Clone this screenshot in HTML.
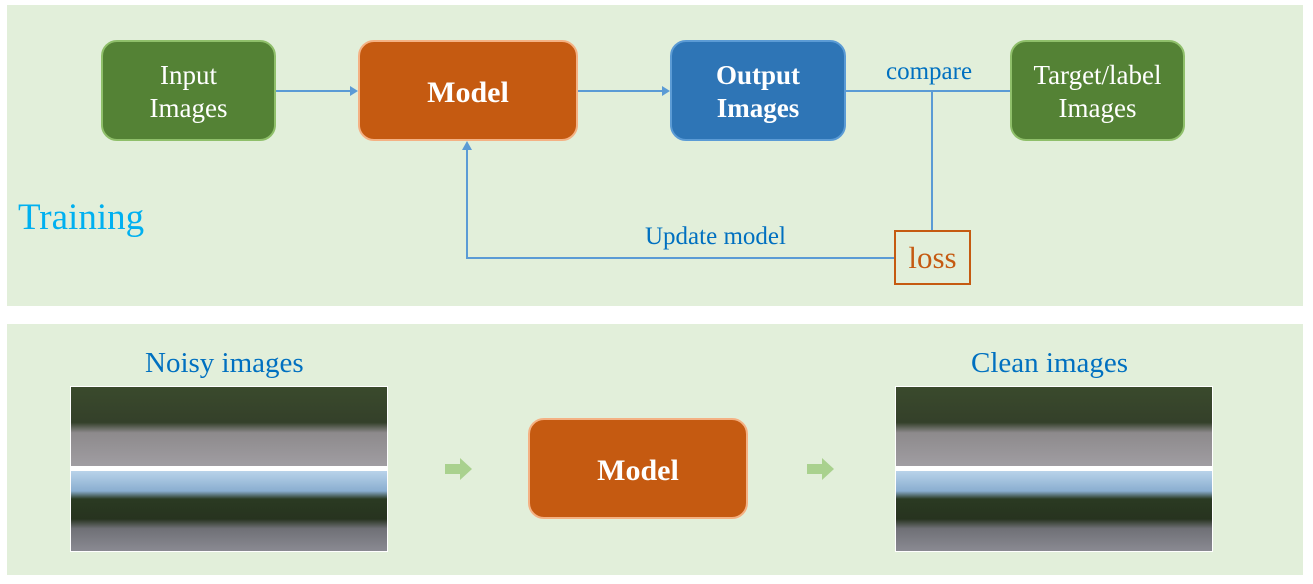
<!DOCTYPE html>
<html><head><style>
body{margin:0;width:1313px;height:584px;background:#fff;position:relative;overflow:hidden;font-family:"Liberation Serif",serif}
.a{position:absolute}
.panel{background:#e2efda}
.box{position:absolute;border-radius:16px;color:#fff;display:flex;align-items:center;justify-content:center;text-align:center;font-size:27px;line-height:33px;box-sizing:border-box;padding-top:3px}
.g{background:#548235;border:2px solid #8fbf6a}
.o{background:#c55a11;border:2px solid #f4b183}
.b{background:#2e75b6;border:2px solid #5b9bd5}
.lbl{position:absolute;color:#0070c0;font-size:25px;white-space:nowrap}
.img1{background:linear-gradient(to bottom,#3a4a2c 0%,#34402a 45%,#8d8a8c 58%,#a09da2 100%)}
.img2{background:linear-gradient(to bottom,#b9d3ea 0%,#8aaed0 25%,#2a3a22 35%,#27331f 60%,#6f7076 72%,#8a8a92 100%)}
</style></head><body>
<div class="a panel" style="left:7px;top:5px;width:1296px;height:301px"></div>
<div class="a panel" style="left:7px;top:324px;width:1296px;height:251px"></div>
<div class="box g" style="left:101px;top:40px;width:175px;height:101px">Input<br>Images</div>
<div class="box o" style="left:358px;top:40px;width:220px;height:101px;font-weight:bold;font-size:30px">Model</div>
<div class="box b" style="left:670px;top:40px;width:176px;height:101px;font-weight:bold">Output<br>Images</div>
<div class="box g" style="left:1010px;top:40px;width:175px;height:101px">Target/label<br>Images</div>
<svg class="a" style="left:0;top:0" width="1313" height="584">
<g stroke="#5b9bd5" stroke-width="2" fill="none">
<line x1="276" y1="91" x2="352" y2="91"/>
<line x1="578" y1="91" x2="664" y2="91"/>
<line x1="846" y1="91" x2="1010" y2="91"/>
<line x1="932" y1="91" x2="932" y2="231"/>
<polyline points="895,258 467,258 467,147"/>
</g>
<g fill="#5b9bd5">
<polygon points="358,91 350,86 350,96"/>
<polygon points="670,91 662,86 662,96"/>
<polygon points="467,141 462,150 472,150"/>
</g>
<rect x="895" y="231" width="75" height="53" fill="none" stroke="#c55a11" stroke-width="2"/>
<polygon points="445,464 460,464 460,458 472,469 460,480 460,474 445,474" fill="#a9d18e"/>
<polygon points="807,464 822,464 822,458 834,469 822,480 822,474 807,474" fill="#a9d18e"/>
</svg>
<div class="a" style="left:895px;top:240px;width:75px;text-align:center;color:#c55a11;font-size:31px">loss</div>
<div class="lbl" style="left:886px;top:58px">compare</div>
<div class="lbl" style="left:645px;top:223px">Update model</div>
<div class="lbl" style="left:18px;top:196px;font-size:37px;color:#00b0f0">Training</div>
<div class="lbl" style="left:145px;top:347px;font-size:29px">Noisy images</div>
<div class="lbl" style="left:971px;top:347px;font-size:29px">Clean images</div>
<div class="a" style="left:70px;top:386px;width:318px;height:166px;background:#fff"></div>
<div class="a img1" style="left:71px;top:387px;width:316px;height:79px"></div>
<div class="a img2" style="left:71px;top:471px;width:316px;height:80px"></div>
<div class="a" style="left:895px;top:386px;width:318px;height:166px;background:#fff"></div>
<div class="a img1" style="left:896px;top:387px;width:316px;height:79px"></div>
<div class="a img2" style="left:896px;top:471px;width:316px;height:80px"></div>
<div class="box o" style="left:528px;top:418px;width:220px;height:101px;font-weight:bold;font-size:30px">Model</div>
</body></html>
